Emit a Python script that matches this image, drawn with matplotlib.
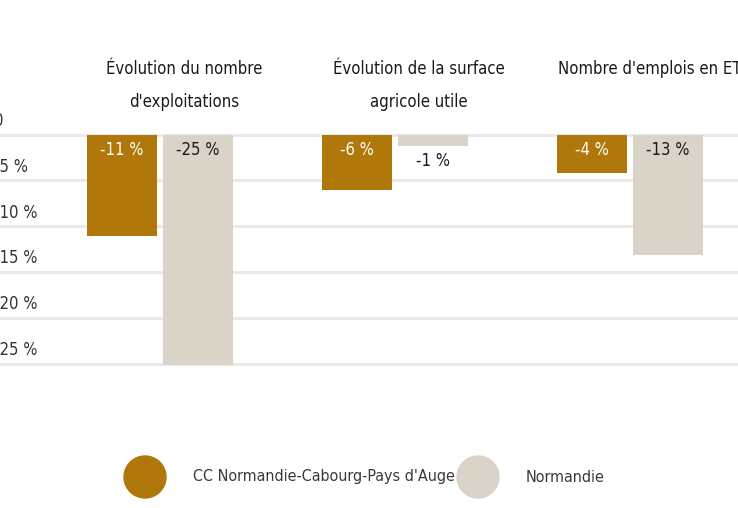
import matplotlib
matplotlib.use("Agg")
import matplotlib.pyplot as plt
from matplotlib.patches import Ellipse
import numpy as np

plt.rcParams['font.family'] = ['DejaVu Sans']
plt.rcParams['font.stretch'] = 'condensed'

# data
categories = ["Évolution du nombre\nd'exploitations",
              "Évolution de la surface\nagricole utile",
              "Nombre d'emplois en ETP"]
series = ["CC Normandie-Cabourg-Pays d'Auge", "Normandie"]
cc_values = [-11.1, -6.1, -4.2]
normandie_values = [-25.1, -1.3, -13.1]
y_ticks = [0, -5, -10, -15, -20, -25]
y_tick_labels = ["0", "-5 %", "-10 %", "-15 %", "-20 %", "-25 %"]

colors = ["#B0780B", "#D9D4C7"]
label_colors = ["white", "#1a1a1a"]

W, H = 738, 508
fig = plt.figure(figsize=(W / 100, H / 100), dpi=100)

# axes spans the whole width; the chart in the picture is cut at both sides
px_unit = 9.18
top_px, bot_px = 134.5 - 1 * px_unit, 134.5 + 26 * px_unit
ax = fig.add_axes([0, 1 - bot_px / H, 1, (bot_px - top_px) / H])
ax.set_ylim(-26, 1)
ax.set_xlim(-160 / 235, (W - 160) / 235)
ax.axis("off")

for t in y_ticks:
    ax.axhline(t, color="#e9e9e9", lw=2.2, zorder=0)
for t, lab in zip(y_ticks, y_tick_labels):
    ax.text(-6 / W, t + 1.5, lab, transform=ax.get_yaxis_transform(),
            ha="left", va="center", fontsize=12, color="#333333")

x = np.arange(len(categories))
width = 0.30
offsets = [-0.161, 0.161]
for vals, off, col, lcol in zip([cc_values, normandie_values], offsets, colors, label_colors):
    ax.bar(x + off, vals, width, color=col, zorder=2)
    for xi, v in zip(x, vals):
        if v > -3:
            ax.text(xi + off, v - 1.6, f"{round(v)} %", ha="center", va="center",
                    fontsize=12, color="#1a1a1a", zorder=3)
        else:
            ax.text(xi + off, -1.7, f"{round(v)} %", ha="center", va="center",
                    fontsize=12, color=lcol, zorder=3)

for xi, cat in zip(x, categories):
    ax.text(xi + 24 / 235, 8.1, cat, ha="center", va="top", fontsize=12,
            color="#1a1a1a", linespacing=2.08, clip_on=False)

# legend
legend_x = [145, 478]
for lx, name, col in zip(legend_x, series, colors):
    fig.patches.append(Ellipse((lx / W, 1 - 477 / H), 42 / W, 42 / H,
                               transform=fig.transFigure, color=col))
    fig.text((lx + 48) / W, 1 - 477 / H, name, ha="left", va="center",
             fontsize=11.5, color="#3a3a3a")

fig.savefig("out.png", dpi=100)
